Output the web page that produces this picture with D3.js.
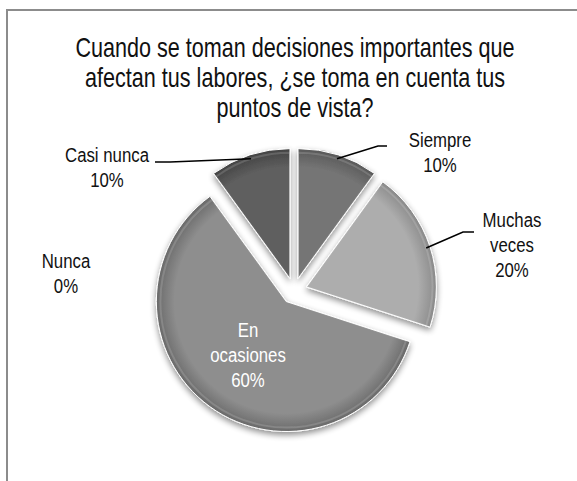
<html>
<head>
<meta charset="utf-8" />
<title>Puntos de vista</title>
<script src="https://cdn.jsdelivr.net/npm/d3@7"></script>
<style>
body { margin:0; background:#fff; }
text { font-family: "Liberation Sans", Arial, sans-serif; }
</style>
</head>
<body>
<script>
var categories = ["Siempre", "Muchas veces", "En ocasiones", "Nunca", "Casi nunca"];
var values = [10, 20, 60, 0, 10];
var labelLines = [["Siempre", "10%"], ["Muchas", "veces", "20%"], ["En", "ocasiones", "60%"], ["Nunca", "0%"], ["Casi nunca", "10%"]];
var titleLines = ["Cuando se toman decisiones importantes que", "afectan tus labores, ¿se toma en cuenta tus", "puntos de vista?"];

var width = 577, height = 481;
var cx = 294, cy = 291, radius = 130, explode = 13;
var narrow = 0.8; // fake Arial Narrow

// colours per slice (light centre, dark rim)
var fills = [["#747474", "#595959"], ["#adadad", "#8a8a8a"], ["#8e8e8e", "#6a6a6a"], ["#888", "#666"], ["#5e5e5e", "#434343"]];
// label placement: text centre x, first baseline y, leader elbow & end
var labelPos = [
	{x:440, y:147, elbow:[378,146], end:[387,146]},
	{x:512, y:227, elbow:[463,232], end:[474,232]},
	{x:248, y:337, inside:true},
	{x:66, y:268},
	{x:107, y:162, elbow:[170,162], end:[155,162]}
];
var lineGap = 25;

var svg = d3.select("body").append("svg")
	.attr("width", width).attr("height", height);

var defs = svg.append("defs");
var shadow = defs.append("filter").attr("id","shadow").attr("x","-20%").attr("y","-20%").attr("width","140%").attr("height","140%");
shadow.append("feGaussianBlur").attr("in","SourceAlpha").attr("stdDeviation",3);
shadow.append("feOffset").attr("dx",0).attr("dy",3).attr("result","b");
shadow.append("feComponentTransfer").append("feFuncA").attr("type","linear").attr("slope",0.45);
var m = shadow.append("feMerge");
m.append("feMergeNode");
m.append("feMergeNode").attr("in","SourceGraphic");

fills.forEach(function(f, i) {
	var g = defs.append("radialGradient").attr("id","grad"+i)
		.attr("gradientUnits","userSpaceOnUse").attr("cx",0).attr("cy",0).attr("r",radius);
	g.append("stop").attr("offset","0%").attr("stop-color",f[0]);
	g.append("stop").attr("offset","86%").attr("stop-color",f[0]);
	g.append("stop").attr("offset","100%").attr("stop-color",f[1]);
});

// frame
svg.append("rect").attr("x",7).attr("y",10).attr("width",width+20).attr("height",height+20)
	.attr("fill","none").attr("stroke","#8c8c8c").attr("stroke-width",2);

function narrowText(sel, x, y) {
	sel.attr("transform", function(d, j){ return "translate(" + x + "," + y(d, j) + ") scale(" + narrow + ",1)"; })
		.attr("text-anchor","middle");
}

// title
svg.append("g").selectAll("text").data(titleLines).join("text")
	.call(narrowText, 295, function(d,i){ return 57 + i*30; })
	.attr("font-size","27px").attr("fill","#111")
	.text(function(d){ return d; });

var pie = d3.pie().sort(null).value(function(d){ return d; }).startAngle(0).endAngle(2*Math.PI);
var arcs = pie(values);
var arc = d3.arc().innerRadius(0).outerRadius(radius);
var bevel = d3.arc().innerRadius(0).outerRadius(radius - 4);

function offset(d) {
	var a = (d.startAngle + d.endAngle) / 2;
	return [cx + Math.sin(a)*explode, cy - Math.cos(a)*explode];
}

var slices = svg.append("g").selectAll("g").data(arcs).join("g")
	.attr("transform", function(d){ var o = offset(d); return "translate(" + o[0] + "," + o[1] + ")"; });

slices.filter(function(d){ return d.value > 0; }).append("path")
	.attr("d", arc)
	.attr("fill", function(d){ return "url(#grad" + d.index + ")"; })
	.attr("stroke","#fff").attr("stroke-width",1).attr("stroke-linejoin","round")
	.attr("filter","url(#shadow)");

slices.filter(function(d){ return d.value > 0; }).append("path")
	.attr("d", bevel)
	.attr("fill","none")
	.attr("stroke","rgba(255,255,255,0.15)").attr("stroke-width",2);

// leader lines
arcs.forEach(function(d, i) {
	var p = labelPos[i];
	if (!p.elbow) return;
	var o = offset(d);
	var a = (d.startAngle + d.endAngle) / 2;
	var start = [o[0] + Math.sin(a)*(radius-4), o[1] - Math.cos(a)*(radius-4)];
	svg.append("polyline")
		.attr("points", [start, p.elbow, p.end].map(function(q){ return q.join(","); }).join(" "))
		.attr("fill","none").attr("stroke","#000").attr("stroke-width",1.6);
});

// labels
arcs.forEach(function(d, i) {
	var p = labelPos[i];
	svg.append("g").selectAll("text").data(labelLines[i]).join("text")
		.call(narrowText, p.x, function(t,j){ return p.y + j*lineGap; })
		.attr("font-size","21px")
		.attr("fill", p.inside ? "#fff" : "#111")
		.text(function(t){ return t; });
});
</script>
</body>
</html>
